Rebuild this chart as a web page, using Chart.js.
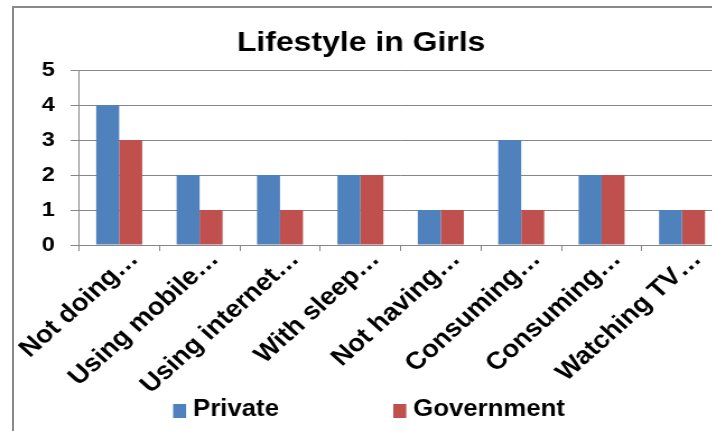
<!DOCTYPE html>
<html>
<head>
<meta charset="utf-8">
<script src="https://cdn.jsdelivr.net/npm/chart.js@4.4.0/dist/chart.umd.min.js"></script>
<style>
  html,body{margin:0;padding:0;background:#fff;overflow:hidden;width:712px;height:431px;}
  /* outer chart frame, runs off the right and bottom edge like the source */
  #frame{position:absolute;left:12px;top:6px;width:780px;height:520px;border-left:2px solid #8a8a8a;border-top:2px solid #8a8a8a;}
  #c{position:absolute;left:0;top:0;}
</style>
</head>
<body>
<div id="frame"></div>
<!-- source picture is stretched sideways ~1.12x, so the canvas is too (inline style so Chart.js keeps it) -->
<canvas id="c" width="656" height="431" style="width:735px;height:431px;"></canvas>
<script>
// data
const categories = ['Not doing…','Using mobile…','Using internet…','With sleep…','Not having…','Consuming…','Consuming…','Watching TV…'];
const privateVals = [4,2,2,2,1,3,2,1];
const governmentVals = [3,1,1,2,1,1,2,1];
const yMin = 0, yMax = 5, yStep = 1;

const FONT = '"Liberation Sans", Arial, sans-serif';
const GRID = '#868686';
Chart.defaults.font.family = FONT;
Chart.defaults.color = '#000';

// legend drawn by hand so it sits where the source one does
const bottomLegend = {
  id: 'bottomLegend',
  afterDraw(chart, args, opts){
    const ctx = chart.ctx;
    ctx.save();
    ctx.font = 'bold ' + opts.size + 'px ' + FONT;
    ctx.textBaseline = 'middle';
    ctx.textAlign = 'left';
    chart.data.datasets.forEach((ds, i) => {
      const x = opts.x[i];
      ctx.fillStyle = ds.backgroundColor;
      ctx.fillRect(x, opts.y - 6, opts.box, 14);
      ctx.fillStyle = '#000';
      ctx.fillText(ds.label, x + opts.gap, opts.y);
    });
    ctx.restore();
  }
};

new Chart(document.getElementById('c'), {
  type: 'bar',
  data: {
    labels: categories,
    datasets: [
      { label:'Private', data: privateVals, backgroundColor:'#4F81BD' },
      { label:'Government', data: governmentVals, backgroundColor:'#C0504D' }
    ]
  },
  options: {
    responsive: false,
    animation: false,
    categoryPercentage: 0.572,
    barPercentage: 1,
    layout: { padding: { left:0, right:11.4, top:0, bottom:16 } },
    plugins: {
      legend: { display:false },
      tooltip: { enabled:false },
      title: {
        display:true, text:'Lifestyle in Girls', color:'#000',
        font:{ size:28.5, weight:'bold' },
        padding:{ top:26, bottom:10 }
      },
      bottomLegend: { x:[154.5, 351], y:410, box:11.6, gap:17.8, size:23 }
    },
    scales: {
      x: {
        grid:{ offset:true, drawOnChartArea:false, tickLength:6, color:GRID },
        border:{ color:GRID },
        ticks:{ autoSkip:false, minRotation:45, maxRotation:45, labelOffset:13.5, padding:-6, color:'#000', font:{ size:24.5, weight:'bold' } },
        // tall box so the rotated labels are not clipped
        afterFit(s){ s.height = 170; }
      },
      y: {
        min:yMin, max:yMax,
        grid:{ color:GRID, tickLength:7.5 },
        border:{ color:GRID },
        ticks:{ stepSize:yStep, padding:14, color:'#000', font:{ size:21, weight:'bold' } },
        afterFit(s){ s.width = 70.5; }
      }
    }
  },
  plugins: [bottomLegend]
});
</script>
</body>
</html>
